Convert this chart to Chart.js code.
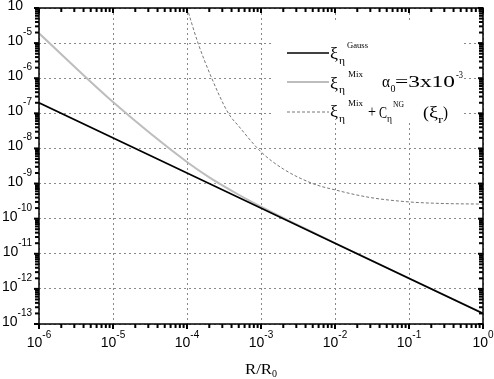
<!DOCTYPE html>
<html>
<head>
<meta charset="utf-8">
<script src="https://cdn.jsdelivr.net/npm/chart.js@4.4.0/dist/chart.umd.min.js"></script>
<style>
html, body { margin: 0; padding: 0; background: #fff; }
#wrap { width: 494px; height: 379px; }
</style>
</head>
<body>
<div id="wrap"><canvas id="mainChart"></canvas></div>
<script>
// values
const rGauss = [1e-6, 1e-4, 1e-2, 1];
const xiGauss = [2e-7, 2e-9, 2e-11, 2e-13];
const rMix = [1e-6, 1e-5, 1e-4, 2e-4, 5e-4, 1e-3, 2e-3, 5e-3, 1e-2, 1e-1, 1];
const xiMix = [1.9e-5, 2.1e-7, 4.1e-9, 1.5e-9, 4.8e-10, 2.2e-10, 1.05e-10, 4.1e-11, 2e-11, 2e-12, 2e-13];
const rNG = [1e-4, 1.41e-4, 2.16e-4, 3.63e-4, 5e-4, 1e-3, 2e-3, 5e-3, 1e-2, 3e-2, 1e-1, 3e-1, 1];
const xiNG = [1e-4, 1e-5, 1e-6, 1e-7, 4.3e-8, 8e-9, 2.6e-9, 1e-9, 6.6e-10, 4e-10, 3e-10, 2.7e-10, 2.6e-10];
const xExps = [-6, -5, -4, -3, -2, -1, 0];
const yExps = [-13, -12, -11, -10, -9, -8, -7, -6, -5, -4];
const minorSteps = [2, 3, 4, 5, 6, 7, 8, 9];

const toPts = (xs, ys) => xs.map((x, i) => ({x: x, y: ys[i]}));
const decades = exps => exps.map(e => ({value: Math.pow(10, e)}));

const sans = 'Arial, "Liberation Sans", sans-serif';
const serif = '"Times New Roman", "Liberation Serif", serif';

function txt(ctx, s, x, y, size, family, align) {
    ctx.font = size + 'px ' + family;
    ctx.textAlign = align || 'left';
    ctx.fillText(s, x, y);
    return ctx.measureText(s).width;
}

// text squeezed/stretched to the width it has in the picture
function fitTxt(ctx, s, x, y, size, w) {
    ctx.font = size + 'px ' + serif;
    ctx.textAlign = 'left';
    const m = ctx.measureText(s).width;
    ctx.save();
    ctx.translate(x, y);
    ctx.scale(w / m, 1);
    ctx.fillText(s, 0, 0);
    ctx.restore();
}

// legend runs: [text, x, baseline, size, width]
const legendRows = [
    {style: 'gauss', y: 53, runs: [
        ['ξ', 330, 59, 17, 8], ['η', 339, 64, 11, 6], ['Gauss', 347, 48, 9, 21]]},
    {style: 'mix', y: 82, runs: [
        ['ξ', 330, 88.5, 17, 8], ['η', 339, 93, 11, 6], ['Mix', 348, 77, 9, 15],
        ['α', 382, 87, 16, 8], ['0', 390.5, 91.5, 11, 5], ['=3x10', 395, 87, 16, 60], ['-3', 456, 78, 10, 7]]},
    {style: 'ng', y: 112, runs: [
        ['ξ', 330, 117, 17, 8], ['η', 339, 122, 11, 6], ['Mix', 348, 106, 9, 15],
        ['+', 368, 117, 16, 8], ['C', 379, 117.5, 16, 8], ['η', 387, 121.5, 11, 5], ['NG', 393, 107, 9, 11],
        ['(', 423, 118, 16, 6], ['ξ', 429, 118, 16, 9], ['r', 438, 123, 10, 5], [')', 443, 118, 16, 5]]}
];
const lineStyles = {
    gauss: {color: '#000', width: 1.7, dash: []},
    mix: {color: '#bdbdbd', width: 2, dash: []},
    ng: {color: '#777', width: 1, dash: [3, 2]}
};

// left/bottom ticks point outward, top/right point inward
function drawTicks(ctx, a, xs, ys) {
    ctx.fillStyle = '#000';
    const tw = 2;
    xExps.forEach(e => {
        const marks = [[1, 5]];
        if (e < 0) minorSteps.forEach(k => marks.push([k, 4]));
        marks.forEach(m => {
            const px = xs.getPixelForValue(m[0] * Math.pow(10, e));
            ctx.fillRect(px - tw / 2, a.bottom, tw, m[1]);
            ctx.fillRect(px - tw / 2, a.top, tw, m[1]);
        });
    });
    yExps.forEach(e => {
        const marks = [[1, 5]];
        if (e < -4) minorSteps.forEach(k => marks.push([k, 4]));
        marks.forEach(m => {
            const py = ys.getPixelForValue(m[0] * Math.pow(10, e));
            ctx.fillRect(a.left - m[1], py - tw / 2, m[1], tw);
            ctx.fillRect(a.right - m[1], py - tw / 2, m[1], tw);
        });
    });
}

const frame = {
    id: 'frame',
    beforeDatasetsDraw(chart) {
        const ctx = chart.ctx;
        ctx.save();
        ctx.fillStyle = '#fff';
        ctx.fillRect(272, 20, 190, 102);
        ctx.restore();
    },
    afterDraw(chart) {
        const ctx = chart.ctx;
        const a = chart.chartArea;
        const xs = chart.scales.x, ys = chart.scales.y;
        ctx.save();
        ctx.setLineDash([]);
        ctx.strokeStyle = '#000';
        ctx.lineWidth = 1.5;
        ctx.strokeRect(a.left, a.top, a.right - a.left, a.bottom - a.top);

        drawTicks(ctx, a, xs, ys);

        ctx.fillStyle = '#000';
        ctx.textBaseline = 'alphabetic';
        xExps.forEach(e => {
            const px = xs.getPixelForValue(Math.pow(10, e));
            ctx.font = '14px ' + sans;
            const w1 = ctx.measureText('10').width;
            ctx.font = '10px ' + sans;
            const w2 = ctx.measureText(String(e)).width;
            const x0 = px - (w1 + w2) / 2;
            txt(ctx, '10', x0, a.bottom + 23, 14, sans);
            txt(ctx, String(e), x0 + w1, a.bottom + 14, 10, sans);
        });
        yExps.forEach(e => {
            const py = ys.getPixelForValue(Math.pow(10, e));
            ctx.font = '10px ' + sans;
            const w2 = ctx.measureText(String(e)).width;
            txt(ctx, String(e), a.left - 7, py - 8, 10, sans, 'right');
            txt(ctx, '10', a.left - 7 - w2, py + 2, 14, sans, 'right');
        });

        // axis title
        fitTxt(ctx, 'R/R', 245, 374, 15, 27);
        fitTxt(ctx, '0', 272, 377, 10, 5);

        // legend
        const lx0 = 287, lx1 = 329;
        legendRows.forEach(row => {
            const st = lineStyles[row.style];
            ctx.strokeStyle = st.color;
            ctx.lineWidth = st.width;
            ctx.setLineDash(st.dash);
            ctx.beginPath();
            ctx.moveTo(lx0, row.y); ctx.lineTo(lx1, row.y);
            ctx.stroke();
            ctx.setLineDash([]);
            row.runs.forEach(r => fitTxt(ctx, r[0], r[1], r[2], r[3], r[4]));
        });
        ctx.restore();
    }
};

const ctxMain = document.getElementById('mainChart').getContext('2d');
const mainChart = new Chart(ctxMain, {
    type: 'line',
    data: {
        datasets: [
            {
                label: 'Gauss',
                data: toPts(rGauss, xiGauss),
                borderColor: lineStyles.gauss.color,
                borderWidth: lineStyles.gauss.width,
                pointRadius: 0,
                order: 1
            },
            {
                label: 'Mix',
                data: toPts(rMix, xiMix),
                borderColor: lineStyles.mix.color,
                borderWidth: lineStyles.mix.width,
                pointRadius: 0,
                cubicInterpolationMode: 'monotone',
                order: 2
            },
            {
                label: 'Mix + NG',
                data: toPts(rNG, xiNG),
                borderColor: lineStyles.ng.color,
                borderWidth: lineStyles.ng.width,
                borderDash: lineStyles.ng.dash,
                pointRadius: 0,
                cubicInterpolationMode: 'monotone',
                order: 3
            }
        ]
    },
    options: {
        responsive: true,
        maintainAspectRatio: false,
        animation: false,
        layout: {
            padding: {left: 39, right: 11, top: 8, bottom: 55}
        },
        scales: {
            x: {
                type: 'logarithmic',
                min: 1e-6,
                max: 1,
                afterBuildTicks: s => { s.ticks = decades(xExps); },
                ticks: {display: false},
                grid: {drawTicks: false, color: '#8a8a8a', lineWidth: 1},
                border: {display: false, dash: [2, 3]}
            },
            y: {
                type: 'logarithmic',
                min: 1e-13,
                max: 1e-4,
                afterBuildTicks: s => { s.ticks = decades(yExps); },
                ticks: {display: false},
                grid: {drawTicks: false, color: '#8a8a8a', lineWidth: 1},
                border: {display: false, dash: [2, 3]}
            }
        },
        plugins: {
            legend: {display: false},
            tooltip: {enabled: false}
        }
    },
    plugins: [frame]
});
</script>
</body>
</html>
